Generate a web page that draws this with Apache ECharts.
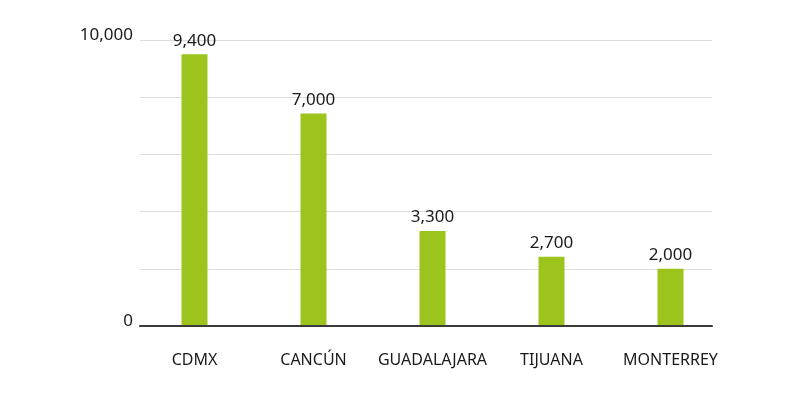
<!DOCTYPE html>
<html>
<head>
<meta charset="utf-8">
<script src="https://cdn.jsdelivr.net/npm/echarts@6/dist/echarts.min.js"></script>
<style>html,body{margin:0;padding:0;background:#fff;}#c{width:800px;height:395px;}</style>
</head>
<body>
<div id="c"></div>
<script>
const categories = ['CDMX', 'CANCÚN', 'GUADALAJARA', 'TIJUANA', 'MONTERREY'];
// printed value labels
const valueLabels = [9400, 7000, 3300, 2700, 2000];
// bar heights as drawn in the picture
const barHeights = [9500, 7430, 3320, 2420, 2000];
const yTickLabels = [0, 10000];

const fmt = v => Number(v).toLocaleString('en-US');
const FONT = '"Noto Sans", sans-serif';
const chart = echarts.init(document.getElementById('c'), null, {renderer: 'canvas'});
chart.setOption({
  animation: false,
  backgroundColor: '#ffffff',
  grid: [
    {left: 140, right: 88, top: 40, bottom: 69},
    {left: 135, right: 70, top: 40, bottom: 69}
  ],
  xAxis: [
    {gridIndex: 0, type: 'category', data: categories,
     axisLine: {show: true, lineStyle: {color: '#3a3a3a', width: 2}},
     axisTick: {show: false}, axisLabel: {show: false}, z: 5},
    {gridIndex: 1, type: 'category', data: categories,
     axisLine: {show: false}, axisTick: {show: false},
     axisLabel: {show: true, interval: 0, margin: 26, color: '#1a1a1a', fontFamily: FONT, fontSize: 16}}
  ],
  yAxis: [
    {gridIndex: 0, type: 'value', min: 0, max: 10000, interval: 2000,
     axisLine: {show: false}, axisTick: {show: false},
     splitLine: {show: true, lineStyle: {color: '#dcdcdc', width: 1}},
     axisLabel: {show: true, margin: 7, color: '#1a1a1a', fontFamily: FONT, fontSize: 17,
       verticalAlign: 'bottom', lineHeight: 10,
       formatter: v => yTickLabels.indexOf(v) >= 0 ? fmt(v) : ''}},
    {gridIndex: 1, type: 'value', min: 0, max: 10000, show: false}
  ],
  series: [{
    type: 'bar', xAxisIndex: 1, yAxisIndex: 1,
    data: barHeights, barWidth: 26,
    itemStyle: {color: '#9dc41d'},
    label: {show: true, position: 'top', distance: 5, color: '#1a1a1a',
      fontFamily: FONT, fontSize: 17, formatter: p => fmt(valueLabels[p.dataIndex])}
  }]
});
</script>
</body>
</html>
